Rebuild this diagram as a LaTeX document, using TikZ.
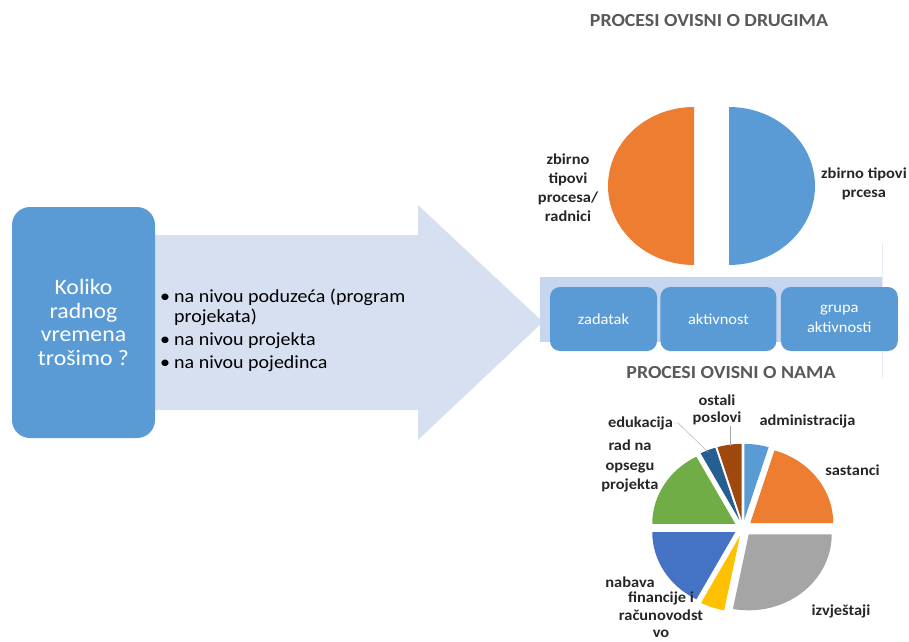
\documentclass[tikz,border=0pt]{standalone}
\usepackage{fontspec}
\setmainfont{Carlito}[FakeStretch=1.08]
\usetikzlibrary{positioning}
\definecolor{boxblue}{HTML}{5B9BD5}
\definecolor{arrowblue}{HTML}{D6E0F0}
\definecolor{bandblue}{HTML}{C5D6EE}
\definecolor{titlegray}{HTML}{595959}
\definecolor{labelgray}{HTML}{262626}
\definecolor{pieA}{HTML}{5B9BD5}
\definecolor{pieB}{HTML}{ED7D31}
\definecolor{pieC}{HTML}{A5A5A5}
\definecolor{pieD}{HTML}{FFC000}
\definecolor{pieE}{HTML}{4472C4}
\definecolor{pieF}{HTML}{70AD47}
\definecolor{pieG}{HTML}{255E91}
\definecolor{pieH}{HTML}{9E480E}
\begin{document}
\begin{tikzpicture}[x=1pt, y=1pt,
  box/.style = {fill=boxblue, rounded corners=10pt, text=white, align=center, inner sep=0pt,
                minimum height=64pt, font=\fontsize{15.2}{20}\selectfont},
  lbl/.style = {font=\fontsize{15.2}{19}\selectfont\bfseries, text=labelgray, align=center, inner sep=1pt},
  ttl/.style = {font=\fontsize{18.4}{20}\selectfont\bfseries, text=titlegray},
  leader/.style = {draw=pieC, thin}]
\useasboundingbox (0,0) rectangle (909,641);

% big arrow and question
\fill[arrowblue] (150,406) -- (418,406) -- (418,436) -- (543,319) -- (418,201) -- (418,231) -- (150,231) -- cycle;
\node[box, rounded corners=18pt, minimum width=143pt, minimum height=231pt,
      font=\fontsize{22}{23.7}\selectfont] (pitanje) at (83.5,318.5) {Koliko\\radnog\\vremena\\trošimo ?};
\node[anchor=west, align=left, inner sep=0pt, font=\fontsize{18.5}{20}\selectfont] (razine) at (160,311)
  {\makebox[14pt][l]{\textbullet}na nivou poduzeća (program\\
   \hspace*{14pt}projekata)\\[3pt]
   \makebox[14pt][l]{\textbullet}na nivou projekta\\[3pt]
   \makebox[14pt][l]{\textbullet}na nivou pojedinca};

% procesi ovisni o drugima
\node[ttl] (naslovA) at (709,620) {PROCESI OVISNI O DRUGIMA};
\fill[pieB] (694,455) -- ++(0,79) arc[start angle=90, end angle=270, x radius=86, y radius=79] -- cycle;
\fill[pieA] (729,455) -- ++(0,79) arc[start angle=90, end angle=-90, x radius=86, y radius=79] -- cycle;
\node[lbl] (radnici) at (568,453) {zbirno\\tipovi\\procesa/\\radnici};
\node[lbl, anchor=west] (prcesa) at (820,457.5) {zbirno tipovi\\prcesa};

% razine procesa
\draw[draw=arrowblue!60, thin] (882,398) -- (882,263);
\fill[bandblue] (540,364) rectangle (882,299);
\node[box, minimum width=107pt] (zadatak) at (603.5,322) {zadatak};
\node[box, minimum width=116pt, right=3pt of zadatak] (aktivnost) {aktivnost};
\node[box, minimum width=117pt, right=4pt of aktivnost] (grupa) {grupa\\aktivnosti};

% procesi ovisni o nama
\node[ttl] (naslovB) at (731,268) {PROCESI OVISNI O NAMA};
\foreach \s/\e/\col in {73/90/pieA, 0/73/pieB, -101/0/pieC, -118/-101/pieD,
                        -180/-118/pieE, 118/180/pieF, 107/118/pieG, 90/107/pieH}{
  \pgfmathsetmacro{\m}{(\s+\e)/2}
  \fill[\col, shift={(\m:9 and 8.2)}] (743,113) -- ++(\s:83 and 76)
     arc[start angle=\s, end angle=\e, x radius=83, y radius=76] -- cycle;
}
\node[lbl] (administracija) at (807.5,220) {administracija};
\node[lbl] (sastanci) at (852.5,171) {sastanci};
\node[lbl] (izvjestaji) at (841,30) {izvještaji};
\node[lbl] (nabava) at (630,59) {nabava};
\node[lbl, font=\fontsize{15.2}{17.5}\selectfont\bfseries] (financije) at (661,26) {financije i\\računovodst\\vo};
\node[lbl, font=\fontsize{15.2}{19.5}\selectfont\bfseries] (opseg) at (630,175) {rad na\\opsegu\\projekta};
\node[lbl] (edukacija) at (640.5,218) {edukacija};
\node[lbl, font=\fontsize{15.2}{17}\selectfont\bfseries] (ostali) at (717,231.5) {ostali\\poslovi};
\coordinate (eduVrh) at (708,189);
\coordinate (ostaliVrh) at (730,195);
\draw[leader] (edukacija.east) -- ++(4,0) -- (eduVrh);
\draw[leader] (ostali.south -| ostaliVrh) -- (ostaliVrh);
\end{tikzpicture}
\end{document}
